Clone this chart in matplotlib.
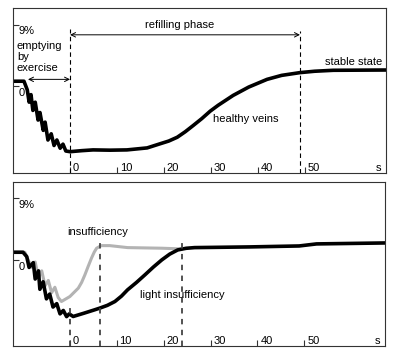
import matplotlib
matplotlib.use("Agg")
import matplotlib.pyplot as plt

plt.rcParams["font.family"] = ["Liberation Sans", "DejaVu Sans"]
plt.rcParams["font.size"] = 8

# time in s, volume change in %
healthy_t = [-12.1, -9.8, -9.1, -8.7, -8.3, -7.9, -7.4, -6.8, -6.4, -5.7, -5.3, -4.7, -4.0,
             -3.4, -2.8, -2.1, -1.5, -0.9, 0.0, 2.5, 4.9, 8.5, 12.1, 16.4, 19.1, 21.0, 22.8,
             24.5, 26.2, 28.0, 29.8, 31.5, 34.7, 38.0, 41.9, 45.0, 48.9, 52.0, 56.0, 67.2]
healthy_v = [0.75, 0.75, -0.5, -2.3, -1.2, -3.5, -2.3, -4.9, -3.8, -6.4, -5.2, -7.8, -6.9,
             -8.6, -7.8, -9.0, -8.4, -9.4, -9.5, -9.35, -9.24, -9.28, -9.24, -8.95, -8.36, -7.95, -7.40,
             -6.6, -5.69, -4.7, -3.61, -2.75, -1.31, -0.1, 1.02, 1.6, 2.0, 2.2, 2.34, 2.38]

light_t = [-12.1, -10.0, -9.2, -8.7, -7.8, -7.4, -6.7, -6.4, -5.7, -5.0, -4.3, -3.6, -2.8,
           -2.1, -1.4, -0.7, -0.15, 0.7, 3.0, 5.3, 6.4, 8.0, 9.6, 11.0, 12.3, 14.2, 16.0,
           17.8, 19.6, 21.3, 23.0, 24.8, 26.6, 38.3, 48.9, 52.6, 67.2]
light_v = [1.12, 1.12, 0.48, -1.1, -0.4, -2.8, -1.6, -4.3, -3.2, -5.7, -5.0, -6.9, -6.4,
           -7.9, -7.4, -8.3, -7.9, -8.28, -7.8, -7.30, -7.05, -6.65, -6.09, -5.3, -4.38, -3.3, -2.19,
           -1.05, 0.0, 0.85, 1.46, 1.7, 1.80, 1.90, 2.04, 2.34, 2.48]

insuff_t = [-12.1, -9.6, -8.9, -8.1, -7.4, -6.7, -6.0, -5.3, -4.6, -3.9, -3.2, -2.5, -1.8,
            0.0, 1.8, 2.5, 3.2, 3.9, 4.6, 5.2, 5.7, 6.7, 8.5, 12.3, 19.6, 23.8]
insuff_v = [1.12, 1.12, 0.0, -1.1, -0.3, -2.6, -1.6, -3.8, -3.0, -4.8, -4.0, -5.5, -6.09,
            -5.36, -4.13, -3.3, -2.19, -0.95, 0.25, 1.15, 1.71, 2.09, 2.09, 1.80, 1.71, 1.61]

xticks = [0, 10, 20, 30, 40, 50]
yticks = [0, 9]
ytick_labels = ["0", "9%"]

fig = plt.figure(figsize=(4.0, 3.59), dpi=100)
ax1 = fig.add_axes([13 / 400, 1 - 173 / 359, 373 / 400, 165 / 359])
ax2 = fig.add_axes([13 / 400, 1 - 346 / 359, 372 / 400, 164 / 359])

for ax in (ax1, ax2):
    ax.set_xlim(-12.13, 67.2)
    ax.set_ylim(-12.6, 11.4)
    ax.set_xticks(xticks)
    ax.set_yticks(yticks)
    ax.set_xticklabels([])
    ax.set_yticklabels([])
    ax.tick_params(direction="in", length=4, width=0.8, color="#333333",
                   top=False, right=False)
    for sp in ax.spines.values():
        sp.set_linewidth(0.8)
        sp.set_color("#333333")
    tr = ax.get_xaxis_transform()
    for t in xticks:
        ax.text(t + 0.6, 0.012, str(t), transform=tr, ha="left", va="baseline")
    ax.text(65.1, 0.012, "s", transform=tr, ha="left", va="baseline")
    for v, lab in zip(yticks, ytick_labels):
        ax.text(-11.0, v - 0.25, lab, ha="left", va="top")

# top panel: healthy veins
ax1.plot(healthy_t, healthy_v, color="black", lw=2.6, solid_joinstyle="round")
ax1.plot([0, 0], [-12.6, 8.3], color="black", lw=0.8, ls=(0, (4, 3)))
ax1.plot([48.9, 48.9], [-12.6, 8.0], color="black", lw=0.8, ls=(0, (4, 3)))
ax1.annotate("", xy=(0, 1.02), xytext=(-8.94, 1.02),
             arrowprops=dict(arrowstyle="<->", lw=0.7, color="black",
                             shrinkA=0, shrinkB=0, mutation_scale=8))
ax1.annotate("", xy=(48.9, 7.5), xytext=(0, 7.5),
             arrowprops=dict(arrowstyle="<->", lw=0.7, color="black",
                             shrinkA=0, shrinkB=0, mutation_scale=8))
ax1.text(23.4, 8.9, "refilling phase", ha="center", va="center")
ax1.text(-11.3, 2.2, "emptying\nby\nexercise", ha="left", va="baseline", linespacing=1.15)
ax1.text(66.4, 3.14, "stable state", ha="right", va="baseline")
ax1.text(30.4, -5.2, "healthy veins", ha="left", va="baseline")

# bottom panel: insufficiency
ax2.plot(insuff_t, insuff_v, color="#b3b3b3", lw=2.2, solid_joinstyle="round")
ax2.plot(light_t, light_v, color="black", lw=2.6, solid_joinstyle="round")
ax2.plot([0, 0], [-12.6, -6.7], color="#444444", lw=1.3, ls=(0, (3, 3)))
ax2.plot([6.4, 6.4], [-12.6, 2.6], color="#444444", lw=1.3, ls=(0, (3, 3)))
ax2.plot([24.0, 24.0], [-12.6, 2.6], color="#444444", lw=1.3, ls=(0, (3, 3)))
ax2.text(-0.64, 3.65, "insufficiency", ha="left", va="baseline")
ax2.text(14.9, -5.6, "light insufficiency", ha="left", va="baseline")

fig.savefig("out.png", dpi=100)
